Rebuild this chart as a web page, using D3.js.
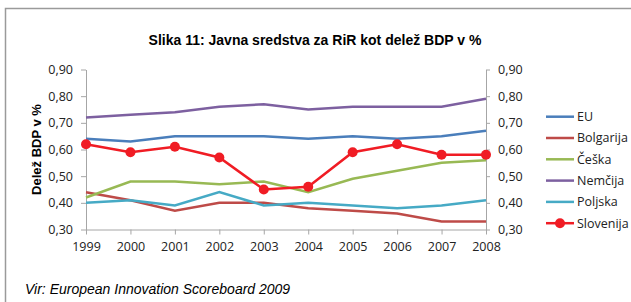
<!DOCTYPE html>
<meta charset="utf-8" />
<html>
  <head>
    <script src="https://d3js.org/d3.v7.min.js"></script>
    <style>
      body {
        margin: 0;
        background-color: white;
        font-family: "Liberation Sans", Arial, sans-serif;
      }
      .axis text {
        font-family: "Open Sans", "Liberation Sans", sans-serif;
        font-size: 12.5px;
        fill: #222;
      }
      .axis path, .axis line {
        stroke: #a6a6a6;
      }
    </style>
  </head>
  <body>
    <div id="chart"></div>
  </body>

  <script>
    // data
    const years = [1999, 2000, 2001, 2002, 2003, 2004, 2005, 2006, 2007, 2008];
    const eu        = [0.64, 0.63, 0.65, 0.65, 0.65, 0.64, 0.65, 0.64, 0.65, 0.67];
    const bolgarija = [0.44, 0.41, 0.37, 0.40, 0.40, 0.38, 0.37, 0.36, 0.33, 0.33];
    const ceska     = [0.42, 0.48, 0.48, 0.47, 0.48, 0.44, 0.49, 0.52, 0.55, 0.56];
    const nemcija   = [0.72, 0.73, 0.74, 0.76, 0.77, 0.75, 0.76, 0.76, 0.76, 0.79];
    const poljska   = [0.40, 0.41, 0.39, 0.44, 0.39, 0.40, 0.39, 0.38, 0.39, 0.41];
    const slovenija = [0.62, 0.59, 0.61, 0.57, 0.45, 0.46, 0.59, 0.62, 0.58, 0.58];
    const yTicks = [0.3, 0.4, 0.5, 0.6, 0.7, 0.8, 0.9];

    const series = [
      {name: "EU", values: eu, color: "#4a7ebb"},
      {name: "Bolgarija", values: bolgarija, color: "#be4b48"},
      {name: "Češka", values: ceska, color: "#98b954"},
      {name: "Nemčija", values: nemcija, color: "#7d60a0"},
      {name: "Poljska", values: poljska, color: "#46aac5"},
      {name: "Slovenija", values: slovenija, color: "#f01c24", marker: true}
    ];

    const width = 631, height = 302;
    const margin = {top: 69.5, right: 132, bottom: 72.5, left: 86};

    const svg = d3.select('#chart').append("svg")
      .attr("width", width)
      .attr("height", height);

    // frame (top and left edges visible)
    svg.append("path")
      .attr("d", `M5.5,${height} V8.5 H${width}`)
      .attr("fill", "none")
      .attr("stroke", "#9a9a9a")
      .attr("stroke-width", 1.5);

    const x = d3.scalePoint()
      .domain(years)
      .range([margin.left, width - margin.right - 13]);

    const y = d3.scaleLinear()
      .domain([0.3, 0.9])
      .range([height - margin.bottom, margin.top]);

    const fmt = d => d3.format(".2f")(d).replace(".", ",");

    svg.append("g")
      .attr("class", "axis")
      .attr("transform", `translate(${margin.left},0)`)
      .call(d3.axisLeft(y).tickValues(yTicks).tickFormat(fmt).tickSize(5).tickPadding(8).tickSizeOuter(0));

    const xr = x(2008);
    svg.append("g")
      .attr("class", "axis")
      .attr("transform", `translate(${xr},0)`)
      .call(d3.axisRight(y).tickValues(yTicks).tickFormat(fmt).tickSize(4).tickPadding(8).tickSizeOuter(0));

    svg.append("g")
      .attr("class", "axis")
      .attr("transform", `translate(0,${y(0.3)})`)
      .call(d3.axisBottom(x).tickSize(5).tickPadding(6).tickSizeOuter(0))
      .call(g => g.selectAll("text").attr("dy", "0.85em"));

    const line = d3.line()
      .x((d, i) => x(years[i]))
      .y(d => y(d));

    svg.append("g")
      .selectAll("path")
      .data(series)
      .join("path")
        .attr("d", d => line(d.values))
        .attr("fill", "none")
        .attr("stroke", d => d.color)
        .attr("stroke-width", 2.5);

    svg.append("g")
      .selectAll("circle")
      .data(slovenija)
      .join("circle")
        .attr("cx", (d, i) => x(years[i]))
        .attr("cy", d => y(d))
        .attr("r", 5)
        .attr("fill", "#f01c24");

    // legend
    const legend = svg.append("g")
      .selectAll("g")
      .data(series)
      .join("g")
        .attr("transform", (d, i) => `translate(546,${116.7 + i * 21.3})`);

    legend.append("line")
      .attr("x1", 0).attr("x2", 28)
      .attr("stroke", d => d.color)
      .attr("stroke-width", 2.5);

    legend.filter(d => d.marker).append("circle")
      .attr("cx", 14).attr("r", 5)
      .attr("fill", d => d.color);

    legend.append("text")
      .attr("x", 31)
      .attr("dy", "0.35em")
      .style("font-family", "'Open Sans', 'Liberation Sans', sans-serif")
      .style("font-size", "12.5px")
      .style("fill", "#222")
      .text(d => d.name);

    // title
    svg.append("text")
      .attr("x", 315)
      .attr("y", 45)
      .attr("text-anchor", "middle")
      .style("font-size", "14px")
      .style("font-weight", "bold")
      .text("Slika 11: Javna sredstva za RiR kot delež BDP v %");

    // y axis title
    svg.append("text")
      .attr("transform", `translate(41,${y(0.6)}) rotate(-90)`)
      .attr("text-anchor", "middle")
      .style("font-size", "13px")
      .style("font-weight", "bold")
      .text("Delež BDP v %");

    // source
    svg.append("text")
      .attr("x", 25)
      .attr("y", 294)
      .style("font-size", "14px")
      .style("font-style", "italic")
      .text("Vir: European Innovation Scoreboard 2009");
  </script>
</html>
